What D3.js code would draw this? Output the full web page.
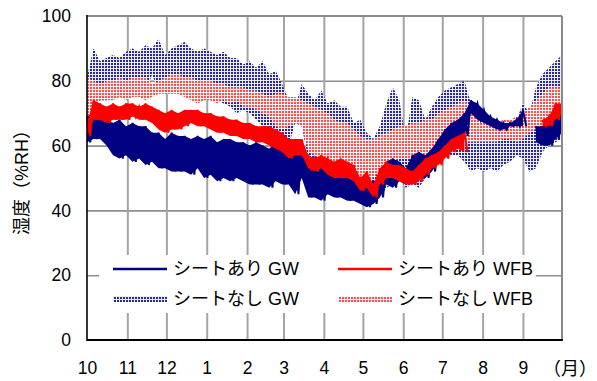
<!DOCTYPE html>
<html>
<head>
<meta charset="utf-8">
<script src="https://cdn.jsdelivr.net/npm/d3@7"></script>
<style>
  html, body { margin: 0; padding: 0; background: #fff; }
  svg { display: block; font-family: "Liberation Sans", "Noto Sans CJK JP", sans-serif; }
</style>
</head>
<body>
<svg id="chart" width="597" height="381"></svg>
<script>
// readings every 5 days from 1 Oct (74 points, last one = 1 Oct next year)
const startDate = new Date(2006, 9, 1);
const endDate = new Date(2007, 9, 1);
const stepDays = 5;

// シートなし GW (band: upper / lower envelope)
const gwNoHi = [81, 90, 86, 87, 88, 87, 89, 90, 89, 91, 90, 93, 88, 90, 91, 92, 90, 89, 90, 89,
  88, 89, 87, 87, 85, 86, 84, 86, 82, 83, 79, 74, 72, 79, 76, 74, 77, 73, 74, 72,
  72, 67, 68, 64, 62, 66, 73, 78, 74, 62, 75, 74, 68, 72, 75, 77, 78, 79, 80, 73,
  72, 69, 68, 68, 67, 67, 68, 73, 70, 78, 82, 84, 86, 88];
const gwNoLo = [66, 72, 74, 74, 75, 75, 75, 75, 75, 76, 82, 77, 76, 77, 76, 76, 75, 75, 75, 74,
  74, 73, 72, 70, 71, 70, 68, 66, 62, 58, 54, 60, 67, 66, 56, 54, 50, 52, 50, 48,
  46, 45, 44, 44, 43, 44, 47, 48, 50, 47, 48, 47, 50, 54, 56, 58, 57, 57, 55, 52,
  53, 52, 53, 52, 54, 55, 57, 56, 52, 53, 58, 60, 61, 62];

// シートなし WFB
const wfbNoHi = [81, 80, 79, 80, 80, 81, 80, 81, 81, 81, 79, 80, 81, 82, 82, 81, 81, 80, 80, 80,
  79, 79, 78, 78, 78, 77, 77, 76, 75, 76, 76, 75, 75, 74, 73, 72, 71, 70, 68, 67,
  67, 65, 63, 62, 62, 63, 64, 65, 66, 66, 67, 67, 68, 68, 70, 71, 72, 73, 74, 72,
  70, 68, 67, 67, 68, 68, 69, 70, 72, 74, 76, 78, 78, 78];
const wfbNoLo = [66, 72, 74, 74, 74, 75, 74, 75, 75, 74, 75, 76, 76, 76, 76, 75, 74, 73, 74, 74,
  73, 74, 73, 74, 72, 72, 71, 70, 69, 66, 65, 66, 67, 66, 58, 57, 55, 52, 51, 50,
  50, 49, 48, 48, 50, 52, 55, 55, 56, 56, 56, 56, 57, 58, 60, 60, 61, 61, 61, 61,
  61, 61, 61, 61, 62, 62, 61, 62, 64, 65, 66, 67, 67, 67];

// シートあり GW (daily swing: high / low)
const gwHi = [69, 70, 69, 68, 67, 68, 66, 67, 66, 66, 64, 64, 62, 64, 63, 63, 62, 63, 62, 63,
  61, 62, 62, 61, 61, 60, 61, 60, 59, 61, 60, 59, 57, 61, 56, 54, 53, 52, 51, 52,
  51, 50, 48, 47, 49, 50, 55, 56, 55, 53, 57, 58, 57, 59, 62, 65, 67, 68, 70, 74,
  73, 71, 69, 68, 67, 67, 68, 71, null, 66, 66, 68, 72, 72];
const gwLo = [61, 62, 62, 60, 57, 56, 57, 55, 56, 54, 55, 53, 53, 52, 52, 52, 51, 53, 50, 51,
  49, 50, 49, 50, 49, 48, 48, 48, 47, 49, 48, 48, 45, 50, 44, 44, 43, 45, 44, 44,
  43, 43, 42, 41, 42, 44, 48, 47, 49, 48, 49, 50, 50, 52, 55, 58, 60, 61, 63, 70,
  68, 67, 66, 65, 65, 66, 66, 66, null, 61, 60, 60, 62, 64];

// シートあり WFB
const wfbHi = [67, 74, 73, 72, 73, 72, 73, 73, 72, 73, 72, 71, 70, 71, 70, 71, 71, 71, 70, 70,
  69, 69, 68, 68, 67, 67, 66, 66, 66, 65, 64, 62, 62, 62, 57, 56, 57, 56, 55, 56,
  55, 54, 50, 52, 48, 53, 55, 54, 54, 53, 52, 54, 56, 57, 58, 60, 62, 63, 64, null,
  null, null, null, null, null, null, null, null, null, null, 68, 69, 73, 73];
const wfbLo = [63, 68, 68, 67, 68, 68, 68, 69, 68, 68, 67, 65, 64, 65, 65, 66, 67, 66, 66, 65,
  64, 64, 63, 63, 62, 62, 61, 61, 60, 59, 58, 56, 57, 57, 53, 52, 53, 51, 50, 50,
  50, 49, 46, 47, 44, 48, 50, 50, 49, 48, 48, 49, 51, 53, 54, 56, 58, 59, 58, null,
  null, null, null, null, null, null, null, null, null, null, 66, 66, 68, 70];

const yTicks = [0, 20, 40, 60, 80, 100];
const legendLabels = ['シートあり GW', 'シートあり WFB', 'シートなし GW', 'シートなし WFB'];

const mLeft = 87, mRight = 562, mTop = 16, mBottom = 340;

const svg = d3.select('#chart');

const x = d3.scaleTime().domain([startDate, endDate]).range([mLeft, mRight]).clamp(true);
const y = d3.scaleLinear().domain([0, 100]).range([mBottom, mTop]);

const dateAt = (i, half) => d3.timeHour.offset(startDate, (i * stepDays + (half ? stepDays / 2 : 0)) * 24);

// dot patterns for the "no sheet" bands
const defs = svg.append('defs');
function dotPattern(id, bg, dot) {
  const p = defs.append('pattern')
    .attr('id', id)
    .attr('patternUnits', 'userSpaceOnUse')
    .attr('width', 3).attr('height', 3);
  p.append('rect').attr('width', 3).attr('height', 3).attr('fill', bg);
  p.append('rect').attr('width', 2).attr('height', 2).attr('fill', dot);
}
dotPattern('dotNavy', '#ececf8', '#2a2a92');
dotPattern('dotPink', '#fff4f4', '#ff4e4e');

// grid
const months = d3.timeMonth.range(startDate, endDate);
svg.append('g')
  .attr('transform', `translate(${mLeft},0)`)
  .call(d3.axisLeft(y).tickValues([20, 40, 60, 80]).tickSize(-(mRight - mLeft)).tickFormat(''))
  .call(g => g.select('.domain').remove())
  .call(g => g.selectAll('line').attr('stroke', '#8e8e8e').attr('stroke-width', 1.6));

svg.append('g')
  .attr('transform', `translate(0,${mBottom})`)
  .call(d3.axisBottom(x).tickValues(months.slice(1)).tickSize(-(mBottom - mTop)).tickFormat(''))
  .call(g => g.select('.domain').remove())
  .call(g => g.selectAll('line').attr('stroke', '#a4a4a4').attr('stroke-width', 2));

// bands
function band(hi, lo, fill) {
  const idx = d3.range(hi.length);
  const area = d3.area()
    .x(i => x(dateAt(i)))
    .y0(i => y(lo[i]))
    .y1(i => y(hi[i]));
  svg.append('path').attr('d', area(idx)).attr('fill', fill);
}
band(gwNoHi, gwNoLo, 'url(#dotNavy)');
band(wfbNoHi, wfbNoLo, 'url(#dotPink)');

// solid series: filled swing band plus jagged high/low trace
function swing(hi, lo, color) {
  const idx = d3.range(hi.length);
  const area = d3.area()
    .defined(i => hi[i] != null)
    .x(i => x(dateAt(i)))
    .y0(i => y(lo[i]))
    .y1(i => y(hi[i]));
  svg.append('path').attr('d', area(idx)).attr('fill', color);

  const pts = [];
  hi.forEach((v, i) => {
    if (v == null) { pts.push(null); return; }
    pts.push([dateAt(i), v]);
    pts.push([dateAt(i, true), lo[i]]);
  });
  const line = d3.line()
    .defined(d => d != null)
    .x(d => x(d[0]))
    .y(d => y(d[1]));
  svg.append('path')
    .attr('d', line(pts))
    .attr('fill', 'none')
    .attr('stroke', color)
    .attr('stroke-width', 2)
    .attr('stroke-linejoin', 'miter');
}
swing(gwHi, gwLo, '#000080');
swing(wfbHi, wfbLo, '#ff0000');

// frame
svg.append('line').attr('x1', mLeft).attr('x2', mRight).attr('y1', mTop).attr('y2', mTop)
  .attr('stroke', '#8a8a8a').attr('stroke-width', 2);
svg.append('line').attr('x1', mRight).attr('x2', mRight).attr('y1', mTop).attr('y2', mBottom)
  .attr('stroke', '#8a8a8a').attr('stroke-width', 2);
svg.append('line').attr('x1', mLeft).attr('x2', mLeft).attr('y1', mTop - 1).attr('y2', mBottom + 1)
  .attr('stroke', '#000').attr('stroke-width', 1.6);
svg.append('line').attr('x1', mLeft).attr('x2', mRight + 1).attr('y1', mBottom).attr('y2', mBottom)
  .attr('stroke', '#000').attr('stroke-width', 2);

// axis labels
svg.append('g')
  .attr('transform', `translate(${mLeft},0)`)
  .call(d3.axisLeft(y).tickValues(yTicks).tickSize(0).tickPadding(16))
  .call(g => g.select('.domain').remove())
  .call(g => g.selectAll('text').attr('font-size', 17.5).attr('fill', '#000'));

svg.append('g')
  .attr('transform', `translate(0,${mBottom})`)
  .call(d3.axisBottom(x).tickValues(months).tickSize(0).tickPadding(22)
    .tickFormat(d => d.getMonth() + 1))
  .call(g => g.select('.domain').remove())
  .call(g => g.selectAll('text').attr('font-size', 17.5).attr('fill', '#000'));

svg.append('text')
  .attr('x', 597).attr('y', 375)
  .attr('text-anchor', 'end')
  .attr('font-size', 18)
  .text('（月）');

svg.append('text')
  .attr('transform', `translate(28,${(mTop + mBottom) / 2}) rotate(-90)`)
  .attr('text-anchor', 'middle')
  .attr('font-size', 18)
  .text('湿度（%RH）');

// legend
const legend = svg.append('g');
legend.append('rect')
  .attr('x', 99).attr('y', 255).attr('width', 437).attr('height', 58)
  .attr('fill', '#fff');

const legendItems = [
  { label: legendLabels[0], kind: 'line', color: '#000080', col: 0, row: 0 },
  { label: legendLabels[1], kind: 'line', color: '#ff0000', col: 1, row: 0 },
  { label: legendLabels[2], kind: 'band', color: 'url(#dotNavy)', col: 0, row: 1 },
  { label: legendLabels[3], kind: 'band', color: 'url(#dotPink)', col: 1, row: 1 },
];
const colX = [113, 338];
const rowY = [269, 299];
legendItems.forEach(it => {
  const lx = colX[it.col], ly = rowY[it.row];
  if (it.kind === 'line') {
    legend.append('line')
      .attr('x1', lx).attr('x2', lx + 54).attr('y1', ly).attr('y2', ly)
      .attr('stroke', it.color).attr('stroke-width', 2.5);
  } else {
    legend.append('rect')
      .attr('x', lx).attr('y', ly - 3).attr('width', 54).attr('height', 6)
      .attr('fill', it.color);
  }
  legend.append('text')
    .attr('x', lx + 60).attr('y', ly)
    .attr('dy', '0.36em')
    .attr('font-size', 18)
    .text(it.label);
});
</script>
</body>
</html>
